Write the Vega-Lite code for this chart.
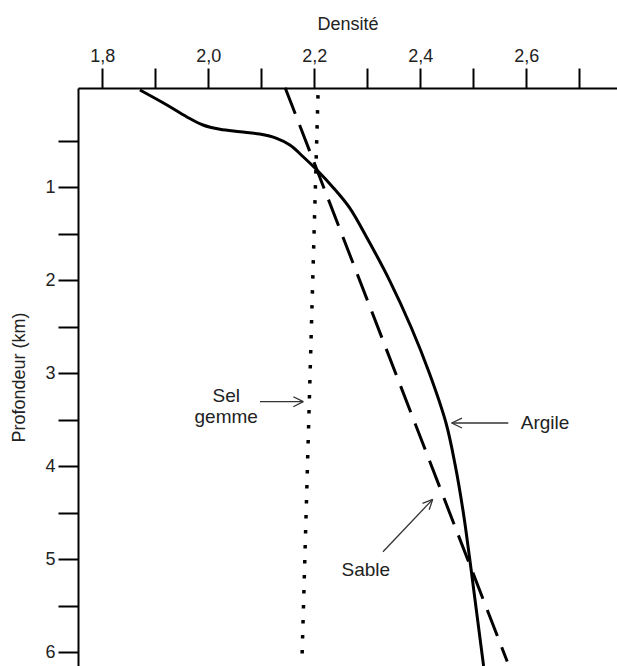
{
  "$schema": "https://vega.github.io/schema/vega-lite/v6.json",
  "width": 539,
  "height": 578,
  "autosize": {"type": "none"},
  "padding": {"left": 78, "top": 88, "right": 0, "bottom": 0},
  "background": "white",
  "config": {"view": {"stroke": null}, "font": "Liberation Sans"},
  "datasets": {
    "curves": [
      {"series": "Argile", "d": 1.871, "z": -0.045},
      {"series": "Argile", "d": 1.922, "z": 0.116},
      {"series": "Argile", "d": 1.959, "z": 0.242},
      {"series": "Argile", "d": 1.990, "z": 0.331},
      {"series": "Argile", "d": 2.022, "z": 0.377},
      {"series": "Argile", "d": 2.060, "z": 0.403},
      {"series": "Argile", "d": 2.097, "z": 0.428},
      {"series": "Argile", "d": 2.129, "z": 0.474},
      {"series": "Argile", "d": 2.154, "z": 0.546},
      {"series": "Argile", "d": 2.179, "z": 0.672},
      {"series": "Argile", "d": 2.205, "z": 0.815},
      {"series": "Argile", "d": 2.235, "z": 1.0},
      {"series": "Argile", "d": 2.2664, "z": 1.22},
      {"series": "Argile", "d": 2.2985, "z": 1.535},
      {"series": "Argile", "d": 2.3417, "z": 1.998},
      {"series": "Argile", "d": 2.3825, "z": 2.503},
      {"series": "Argile", "d": 2.4172, "z": 3.0},
      {"series": "Argile", "d": 2.4485, "z": 3.535},
      {"series": "Argile", "d": 2.4658, "z": 3.987},
      {"series": "Argile", "d": 2.481, "z": 4.492},
      {"series": "Argile", "d": 2.493, "z": 4.987},
      {"series": "Argile", "d": 2.5045, "z": 5.492},
      {"series": "Argile", "d": 2.5194, "z": 6.148},
      {"series": "Sable", "d": 2.145, "z": -0.07},
      {"series": "Sable", "d": 2.564, "z": 6.1},
      {"series": "Sel gemme", "d": 2.207, "z": 0.01},
      {"series": "Sel gemme", "d": 2.177, "z": 6.03}
    ],
    "arrows": [
      {"d": 2.0975, "z": 3.306, "d2": 2.1792, "z2": 3.306},
      {"d": 2.1604, "z": 3.253, "d2": 2.1792, "z2": 3.306},
      {"d": 2.1604, "z": 3.360, "d2": 2.1792, "z2": 3.306},
      {"d": 2.566, "z": 3.535, "d2": 2.4592, "z2": 3.535},
      {"d": 2.4787, "z": 3.482, "d2": 2.4592, "z2": 3.535},
      {"d": 2.4787, "z": 3.589, "d2": 2.4592, "z2": 3.535},
      {"d": 2.3296, "z": 4.919, "d2": 2.4234, "z2": 4.356},
      {"d": 2.4042, "z": 4.399, "d2": 2.4234, "z2": 4.356},
      {"d": 2.4168, "z": 4.468, "d2": 2.4234, "z2": 4.356}
    ],
    "labels": [
      {"text": "Argile", "d": 2.6353, "z": 3.535},
      {"text": "Sable", "d": 2.2972, "z": 5.116},
      {"text": "Sel", "d": 2.0338, "z": 3.245},
      {"text": "gemme", "d": 2.0338, "z": 3.471}
    ]
  },
  "encoding": {
    "x": {
      "field": "d",
      "type": "quantitative",
      "scale": {"domain": [1.7542, 2.7711], "nice": false, "zero": false},
      "axis": {
        "orient": "top",
        "values": [1.8, 1.9, 2.0, 2.1, 2.2, 2.3, 2.4, 2.5, 2.6, 2.7],
        "labelExpr": "round(datum.value*10)%2==0 ? replace(format(datum.value,'.1f'),'.',',') : ''",
        "grid": false,
        "tickSize": 20,
        "tickWidth": 2,
        "tickColor": "black",
        "domainColor": "black",
        "domainWidth": 2,
        "labelFontSize": 18,
        "labelColor": "#222",
        "labelPadding": 3,
        "labelFlush": false,
        "labelOverlap": false,
        "title": "Densité",
        "titleFontSize": 18,
        "titleFontWeight": "normal",
        "titleColor": "#222",
        "titlePadding": 14
      }
    },
    "y": {
      "field": "z",
      "type": "quantitative",
      "scale": {"domain": [-0.067, 6.148], "nice": false, "zero": false, "reverse": true},
      "axis": {
        "values": [0.5, 1, 1.5, 2, 2.5, 3, 3.5, 4, 4.5, 5, 5.5, 6],
        "labelExpr": "datum.value % 1 == 0 ? format(datum.value, 'd') : ''",
        "grid": false,
        "tickSize": 20,
        "tickWidth": 2,
        "tickColor": "black",
        "domainColor": "black",
        "domainWidth": 2,
        "labelFontSize": 18,
        "labelColor": "#222",
        "labelPadding": 3,
        "labelFlush": false,
        "labelOverlap": false,
        "title": "Profondeur (km)",
        "titleFontSize": 18,
        "titleFontWeight": "normal",
        "titleColor": "#222",
        "titlePadding": 16
      }
    }
  },
  "layer": [
    {
      "data": {"name": "curves"},
      "transform": [{"filter": "datum.series == 'Argile'"}],
      "mark": {"type": "line", "color": "black", "strokeWidth": 3, "interpolate": "catmull-rom"},
      "encoding": {"order": {"field": "z", "type": "quantitative"}}
    },
    {
      "data": {"name": "curves"},
      "transform": [{"filter": "datum.series == 'Sable'"}],
      "mark": {"type": "line", "color": "black", "strokeWidth": 3, "strokeDash": [28, 12]},
      "encoding": {"order": {"field": "z", "type": "quantitative"}}
    },
    {
      "data": {"name": "curves"},
      "transform": [{"filter": "datum.series == 'Sel gemme'"}],
      "mark": {"type": "line", "color": "black", "strokeWidth": 3.5, "strokeDash": [3.5, 11.5]},
      "encoding": {"order": {"field": "z", "type": "quantitative"}}
    },
    {
      "data": {"name": "arrows"},
      "mark": {"type": "rule", "color": "#333", "strokeWidth": 1.3},
      "encoding": {
        "x2": {"field": "d2"},
        "y2": {"field": "z2"}
      }
    },
    {
      "data": {"name": "labels"},
      "mark": {"type": "text", "fontSize": 19, "color": "#222", "align": "center", "baseline": "middle"},
      "encoding": {"text": {"field": "text"}}
    }
  ]
}
